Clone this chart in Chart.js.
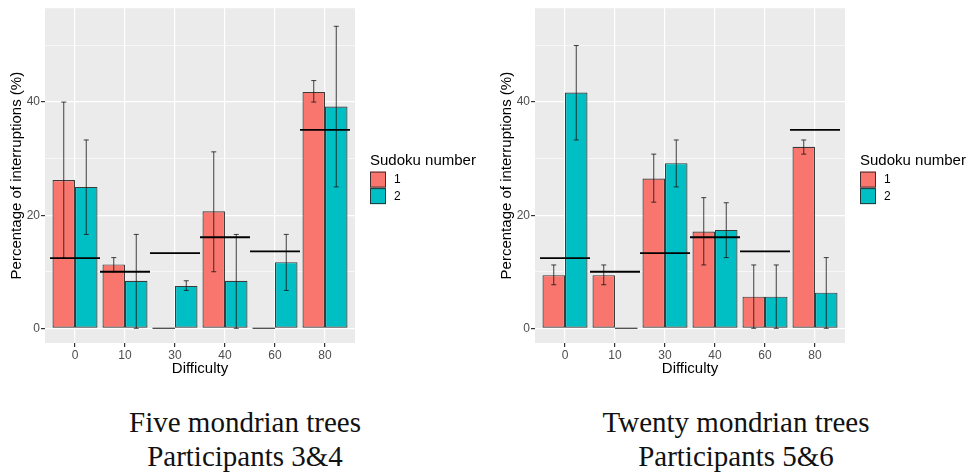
<!DOCTYPE html>
<html>
<head>
<meta charset="utf-8">
<script src="https://cdn.jsdelivr.net/npm/chart.js@4.4.1/dist/chart.umd.min.js"></script>
<style>
  html, body { margin: 0; padding: 0; background: #fff; width: 971px; height: 472px; overflow: hidden; }
  .panel { position: absolute; top: 0; height: 390px; }
  .caption {
    position: absolute; width: 400px; text-align: center;
    font-family: "Liberation Serif", "Times New Roman", serif;
    font-size: 29px; line-height: 34px; color: #111;
  }
</style>
</head>
<body>
<div class="panel" style="left:0;width:490px"><canvas id="five"></canvas></div>
<div class="panel" style="left:490px;width:481px"><canvas id="twenty"></canvas></div>
<div class="caption" style="left:45px;top:405px">Five mondrian trees<br>Participants 3&amp;4</div>
<div class="caption" style="left:536px;top:405px">Twenty mondrian trees<br>Participants 5&amp;6</div>

<script>
// Difficulty levels on the x axis and the sudoku legend entries
const categories = ['0', '10', '30', '40', '60', '80'];
const sudokuLabels = ['1', '2'];
const yTickValues = [0, 10, 20, 30, 40, 50];

// Expected interruption level per difficulty (black segments)
const baseline = [12.4, 10.0, 13.3, 16.1, 13.6, 35.1];

// Five mondrian trees, participants 3 & 4
const fiveSudoku1     = [26.2, 11.3, 0,    20.7, 0,    41.8];
const fiveSudoku1Low  = [12.4, 10.0, null, 10.0, null, 40.0];
const fiveSudoku1High = [40.0, 12.5, null, 31.2, null, 43.8];
const fiveSudoku2     = [25.0, 8.4,  7.5,  8.4,  11.7, 39.2];
const fiveSudoku2Low  = [16.6, 0,    6.7,  0,    6.7,  25.0];
const fiveSudoku2High = [33.3, 16.6, 8.4,  16.6, 16.6, 53.4];

// Twenty mondrian trees, participants 5 & 6
const twentySudoku1     = [9.4,  9.4,  26.5, 17.1, 5.6,  32.1];
const twentySudoku1Low  = [7.7,  7.7,  22.3, 11.2, 0,    30.8];
const twentySudoku1High = [11.2, 11.2, 30.8, 23.1, 11.2, 33.3];
const twentySudoku2     = [41.7, 0,    29.2, 17.4, 5.6,  6.3];
const twentySudoku2Low  = [33.3, null, 25.0, 12.5, 0,    0];
const twentySudoku2High = [50.0, null, 33.3, 22.2, 11.2, 12.5];

const fillColors = ['#F8766D', '#00BFC4'];
const edgeColor = 'rgba(40,40,40,0.9)';
const sans = '"Liberation Sans", Arial, sans-serif';

// Grey panel, error bars, flat zero bars, baseline segments and the legend
const ggPlugin = {
  id: 'gg',
  beforeDraw(chart) {
    const a = chart.chartArea, ctx = chart.ctx;
    ctx.save();
    ctx.fillStyle = '#EBEBEB';
    ctx.fillRect(a.left, a.top, a.right - a.left, a.bottom - a.top);
    ctx.restore();
  },
  afterDatasetsDraw(chart, args, opts) {
    const ctx = chart.ctx, xs = chart.scales.x, ys = chart.scales.y;
    ctx.save();
    chart.data.datasets.forEach((ds, d) => {
      const meta = chart.getDatasetMeta(d);
      meta.data.forEach((el, i) => {
        // a zero-height bar shows as its outline only
        if (ds.data[i].y === 0) {
          ctx.strokeStyle = edgeColor;
          ctx.lineWidth = 1.2;
          ctx.beginPath();
          ctx.moveTo(el.x - el.width / 2, el.base);
          ctx.lineTo(el.x + el.width / 2, el.base);
          ctx.stroke();
        }
        const lo = opts.low[d][i], hi = opts.high[d][i];
        if (lo === null || hi === null) return;
        const yLo = ys.getPixelForValue(lo), yHi = ys.getPixelForValue(hi);
        const cap = 2.5;
        ctx.strokeStyle = 'rgba(20,20,20,0.8)';
        ctx.lineWidth = 1;
        ctx.beginPath();
        ctx.moveTo(el.x, yLo); ctx.lineTo(el.x, yHi);
        ctx.moveTo(el.x - cap, yLo); ctx.lineTo(el.x + cap, yLo);
        ctx.moveTo(el.x - cap, yHi); ctx.lineTo(el.x + cap, yHi);
        ctx.stroke();
      });
    });
    // baseline segment spanning each difficulty slot
    ctx.strokeStyle = '#000';
    ctx.lineWidth = 1.8;
    opts.reference.forEach((v, i) => {
      const yv = ys.getPixelForValue(v);
      ctx.beginPath();
      ctx.moveTo(xs.getPixelForValue(i - 0.5), yv);
      ctx.lineTo(xs.getPixelForValue(i + 0.5), yv);
      ctx.stroke();
    });
    ctx.restore();
  },
  afterDraw(chart, args, opts) {
    const ctx = chart.ctx, a = chart.chartArea;
    const lx = a.right + 15;
    const mid = (a.top + a.bottom) / 2;
    ctx.save();
    ctx.fillStyle = '#000';
    ctx.font = '15px ' + sans;
    ctx.textBaseline = 'alphabetic';
    ctx.textAlign = 'left';
    ctx.fillText(opts.title, lx, mid - 11);
    const key = 16;
    chart.data.datasets.forEach((ds, d) => {
      const top = mid - 4 + d * (key + 0.5);
      ctx.fillStyle = ds.backgroundColor;
      ctx.fillRect(lx, top, key, key);
      ctx.strokeStyle = edgeColor;
      ctx.lineWidth = 1;
      ctx.strokeRect(lx + 0.5, top + 0.5, key - 1, key - 1);
      ctx.fillStyle = '#000';
      ctx.font = '12px ' + sans;
      ctx.textBaseline = 'middle';
      ctx.fillText(ds.label, lx + 24, top + key / 2 + 0.5);
    });
    ctx.restore();
  }
};

function makeChart(id, s1, s1Low, s1High, s2, s2Low, s2High, rightPad) {
  const series = [s1, s2];
  return new Chart(document.getElementById(id), {
    type: 'bar',
    data: {
      datasets: series.map((s, d) => ({
        label: sudokuLabels[d],
        data: s.map((v, i) => ({ x: i, y: v })),
        backgroundColor: fillColors[d],
        borderColor: edgeColor,
        borderWidth: 1.2,
        borderSkipped: false,
        categoryPercentage: 0.9,
        barPercentage: 1.0
      }))
    },
    options: {
      responsive: true,
      maintainAspectRatio: false,
      animation: false,
      events: [],
      layout: { padding: { top: 6, right: rightPad, left: 0, bottom: 0 } },
      plugins: {
        legend: { display: false },
        tooltip: { enabled: false },
        gg: {
          title: 'Sudoku number',
          low: [s1Low, s2Low],
          high: [s1High, s2High],
          reference: baseline
        }
      },
      scales: {
        x: {
          type: 'linear',
          min: -0.6, max: 5.6,
          offset: false,
          afterBuildTicks: s => { s.ticks = categories.map((c, i) => ({ value: i })); },
          afterFit: s => { s.height = 47; },
          grid: { offset: false, color: '#FFFFFF', lineWidth: 1.2, tickLength: 4, tickColor: '#333333' },
          border: { display: false },
          ticks: {
            autoSkip: false, maxRotation: 0, padding: 1,
            color: '#4D4D4D', font: { family: sans, size: 12 },
            callback: v => categories[v]
          },
          title: {
            display: true, text: 'Difficulty', color: '#000',
            font: { family: sans, size: 15 }, padding: { top: 0, bottom: 12 }
          }
        },
        y: {
          min: -2.6, max: 56.6,
          afterBuildTicks: s => { s.ticks = yTickValues.map(v => ({ value: v })); },
          afterFit: s => { s.width = 45; },
          grid: {
            color: '#FFFFFF',
            lineWidth: c => (c.tick && c.tick.value % 20 === 0) ? 1.2 : 0.6,
            tickLength: 4,
            tickColor: c => (c.tick && c.tick.value % 20 === 0) ? '#333333' : 'rgba(0,0,0,0)'
          },
          border: { display: false },
          ticks: {
            autoSkip: false, padding: 1,
            color: '#4D4D4D', font: { family: sans, size: 12 },
            callback: v => (v % 20 === 0 ? String(v) : '')
          },
          title: {
            display: true, text: 'Percentage of interruptions (%)', color: '#000',
            font: { family: sans, size: 15 }, padding: { top: 8, bottom: 0 }
          }
        }
      }
    },
    plugins: [ggPlugin]
  });
}

makeChart('five', fiveSudoku1, fiveSudoku1Low, fiveSudoku1High,
          fiveSudoku2, fiveSudoku2Low, fiveSudoku2High, 135);
makeChart('twenty', twentySudoku1, twentySudoku1Low, twentySudoku1High,
          twentySudoku2, twentySudoku2Low, twentySudoku2High, 126);
</script>
</body>
</html>
